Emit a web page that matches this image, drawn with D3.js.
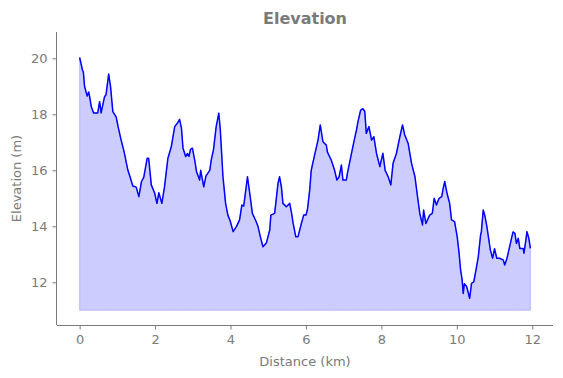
<!DOCTYPE html>
<html>
<head lang="en">
    <meta charset="UTF-8">
    <title>Elevation</title>
    <script src="https://cdn.jsdelivr.net/npm/d3@7/dist/d3.min.js"></script>
    <style>
        body{margin:0;background:#fff;}
        text{font-family:"DejaVu Sans",sans-serif;}
    </style>
</head>
<body>
</body>
</html>
<script>
    // distance along the track (km) and elevation (m)
    var distance=[0,0.04,0.07,0.1,0.13,0.17,0.2,0.24,0.27,0.31,0.37,0.48,0.53,0.57,0.66,0.7,0.77,0.82,0.88,0.97,
        1.02,1.1,1.18,1.24,1.28,1.33,1.41,1.5,1.57,1.64,1.7,1.79,1.83,1.9,1.99,2.05,2.1,2.18,2.25,2.34,
        2.43,2.52,2.6,2.65,2.7,2.74,2.81,2.86,2.9,2.94,2.99,3.05,3.1,3.18,3.21,3.29,3.35,3.45,3.49,3.55,
        3.62,3.69,3.73,3.8,3.87,3.93,3.99,4.07,4.16,4.24,4.3,4.35,4.45,4.51,4.58,4.67,4.73,4.79,4.86,4.95,
        5.04,5.07,5.17,5.22,5.26,5.3,5.35,5.39,5.48,5.57,5.62,5.66,5.73,5.79,5.88,5.94,6.0,6.04,6.1,6.14,
        6.23,6.32,6.38,6.45,6.54,6.57,6.67,6.76,6.82,6.88,6.94,6.98,7.07,7.1,7.19,7.28,7.34,7.38,7.45,7.51,
        7.56,7.6,7.67,7.74,7.8,7.87,7.96,8.04,8.1,8.18,8.25,8.31,8.4,8.49,8.56,8.62,8.71,8.8,8.89,8.97,
        9.02,9.09,9.12,9.18,9.28,9.35,9.4,9.46,9.53,9.6,9.64,9.68,9.74,9.81,9.86,9.94,10.01,10.06,10.1,10.14,
        10.17,10.2,10.26,10.3,10.34,10.39,10.45,10.5,10.57,10.63,10.65,10.7,10.74,10.79,10.83,10.89,10.95,11.0,11.06,11.13,
        11.23,11.27,11.33,11.39,11.45,11.49,11.54,11.58,11.63,11.67,11.76,11.78,11.83,11.86,11.91,11.95];
    var elevation=[20.03,19.8,19.6,19.5,19.0,18.8,18.65,18.8,18.6,18.27,18.05,18.05,18.45,18.05,18.63,18.7,19.44,18.99,18.1,17.9,
        17.56,17.08,16.66,16.26,16.0,15.8,15.44,15.4,15.06,15.6,15.75,16.43,16.43,15.48,15.18,14.82,15.2,14.82,15.41,16.43,
        16.84,17.56,17.7,17.82,17.5,16.8,16.49,16.6,16.5,16.75,16.79,16.37,15.95,15.65,16.0,15.41,15.8,16.0,16.37,16.75,
        17.56,18.04,17.44,15.77,14.82,14.4,14.2,13.81,14.0,14.23,14.76,14.72,15.77,15.18,14.46,14.2,13.99,13.63,13.27,13.4,
        13.87,14.4,14.46,15.06,15.54,15.77,15.4,14.82,14.7,14.82,14.46,14.11,13.63,13.63,14.11,14.4,14.4,14.6,15.3,16.0,
        16.55,17.08,17.62,17.02,16.9,16.65,16.37,16.0,15.65,15.77,16.19,15.65,15.65,15.9,16.49,17.08,17.44,17.74,18.15,18.2,
        18.1,17.32,17.56,17.08,17.2,16.61,16.13,16.61,16.0,15.77,15.48,16.25,16.61,17.2,17.62,17.26,16.96,16.25,15.77,14.94,
        14.45,14.05,14.58,14.1,14.4,14.46,15.0,14.76,15.0,15.06,15.36,15.6,15.18,14.82,14.23,14.17,13.63,13.04,12.44,12.1,
        11.6,11.95,11.85,11.65,11.43,11.96,12.02,12.38,12.92,13.69,13.8,14.58,14.4,14.05,13.69,13.15,12.86,13.2,12.86,12.86,
        12.8,12.62,12.86,13.21,13.57,13.8,13.75,13.39,13.57,13.21,13.21,13.04,13.5,13.81,13.57,13.21];
    var baseElevation=11;
    var xTicks=[0,2,4,6,8,10,12];
    var yTicks=[12,14,16,18,20];

    var _data=distance.map(function(d,i){return {d:d,e:elevation[i]};});

    var _left=57,_right=553,_top=32,_bottom=325;
    var _grey='#7a7a7a';

    var _x=d3.scaleLinear().domain([-0.6,12.55]).range([_left,_right]);
    var _y=d3.scaleLinear().domain([10.475,20.94]).range([_bottom,_top]);

    var _svg=d3.select('body')
            .append('svg')
            .attr('width',563)
            .attr('height',378);

    var _area=d3.area()
            .x(function(d){return _x(d.d);})
            .y0(_y(baseElevation))
            .y1(function(d){return _y(d.e);});
    _svg.append('path')
            .datum(_data)
            .attr('d',_area)
            .attr('fill','#ccccff')
            .attr('stroke','rgba(0,0,255,0.2)')
            .attr('stroke-width',1);

    var _line=d3.line()
            .x(function(d){return _x(d.d);})
            .y(function(d){return _y(d.e);});
    _svg.append('path')
            .datum(_data)
            .attr('d',_line)
            .attr('fill','none')
            .attr('stroke','#0000ff')
            .attr('stroke-width',1.5)
            .attr('stroke-linejoin','round');

    var _xaxis=_svg.append('g')
            .attr('transform','translate(0,'+_bottom+')')
            .call(d3.axisBottom(_x).tickValues(xTicks).tickSize(4.5).tickPadding(5).tickFormat(d3.format('d')));
    var _yaxis=_svg.append('g')
            .attr('transform','translate('+_left+',0)')
            .call(d3.axisLeft(_y).tickValues(yTicks).tickSize(4.5).tickPadding(5).tickFormat(d3.format('d')));
    [_xaxis,_yaxis].forEach(function(a){
        a.select('.domain').attr('stroke',_grey).attr('stroke-width',1);
        a.selectAll('.tick line').attr('stroke',_grey);
        a.selectAll('.tick text').attr('fill',_grey).style('font-size','13px');
    });
    _xaxis.select('.domain').attr('d','M'+_left+',0.5H'+_right);
    _yaxis.select('.domain').attr('d','M-0.5,'+_top+'V'+_bottom);

    _svg.append('text')
            .attr('x',(_left+_right)/2)
            .attr('y',24)
            .attr('text-anchor','middle')
            .attr('fill',_grey)
            .style('font-size','16px')
            .style('font-weight','bold')
            .text('Elevation');
    _svg.append('text')
            .attr('x',(_left+_right)/2)
            .attr('y',366)
            .attr('text-anchor','middle')
            .attr('fill',_grey)
            .style('font-size','13px')
            .text('Distance (km)');
    _svg.append('text')
            .attr('transform','translate(21,'+((_top+_bottom)/2)+') rotate(-90)')
            .attr('text-anchor','middle')
            .attr('fill',_grey)
            .style('font-size','13px')
            .text('Elevation (m)');
</script>
